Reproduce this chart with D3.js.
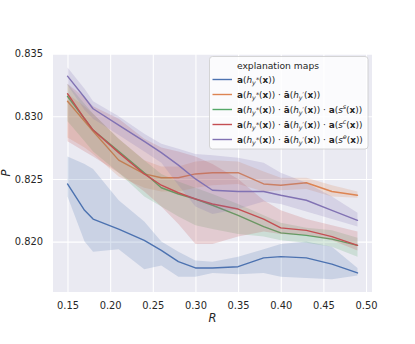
<!DOCTYPE html>
<html><head><meta charset="utf-8">
<script src="https://cdn.jsdelivr.net/npm/d3@7"></script>
<style>body{margin:0;background:#fff}svg{display:block}</style>
</head><body>
<svg id="chart" width="415" height="344"></svg>
<script>
const R = [0.15, 0.17, 0.18, 0.21, 0.24, 0.26, 0.28, 0.30, 0.32, 0.35, 0.38, 0.40, 0.43, 0.46, 0.49];

const blueMean = [0.8246,0.8225,0.8218,0.8210,0.8201,0.8193,0.8184,0.8179,0.8179,0.8180,0.8187,0.8188,0.8187,0.8182,0.8175];
const blueLo   = [0.8236,0.8200,0.8192,0.8194,0.8178,0.8181,0.8172,0.8172,0.8175,0.8174,0.8175,0.8172,0.8171,0.8170,0.8173];
const blueHi   = [0.8268,0.8262,0.8258,0.8233,0.8216,0.8200,0.8192,0.8185,0.8184,0.8188,0.8194,0.8198,0.8200,0.8196,0.8179];

const orangeMean = [0.8312,0.8296,0.8288,0.8265,0.8254,0.8251,0.8251,0.8254,0.8255,0.8255,0.8246,0.8245,0.8247,0.8240,0.8237];
const orangeLo   = [0.8283,0.8275,0.8270,0.8252,0.8243,0.8240,0.8240,0.8243,0.8245,0.8246,0.8240,0.8241,0.8242,0.8236,0.8235];
const orangeHi   = [0.8318,0.8308,0.8302,0.8282,0.8265,0.8260,0.8260,0.8264,0.8265,0.8264,0.8256,0.8251,0.8251,0.8245,0.8240];

const greenMean = [0.8316,0.8298,0.8289,0.8272,0.8255,0.8243,0.8238,0.8234,0.8229,0.8221,0.8212,0.8207,0.8205,0.8202,0.8197];
const greenLo   = [0.8296,0.8280,0.8272,0.8255,0.8236,0.8228,0.8220,0.8213,0.8210,0.8206,0.8204,0.8201,0.8199,0.8196,0.8188];
const greenHi   = [0.8326,0.8310,0.8302,0.8282,0.8265,0.8254,0.8248,0.8243,0.8238,0.8230,0.8221,0.8215,0.8211,0.8209,0.8203];

const redMean = [0.8318,0.8298,0.8289,0.8271,0.8254,0.8245,0.8239,0.8234,0.8230,0.8226,0.8218,0.8211,0.8209,0.8204,0.8197];
const redLo   = [0.8280,0.8272,0.8268,0.8255,0.8240,0.8228,0.8214,0.8198,0.8198,0.8204,0.8208,0.8206,0.8205,0.8201,0.8193];
const redHi   = [0.8326,0.8315,0.8308,0.8298,0.8282,0.8275,0.8272,0.8268,0.8262,0.8250,0.8233,0.8225,0.8218,0.8213,0.8208];

const purpleMean = [0.8332,0.8315,0.8306,0.8293,0.8280,0.8271,0.8261,0.8250,0.8241,0.8240,0.8240,0.8237,0.8233,0.8225,0.8217];
const purpleLo   = [0.8325,0.8305,0.8298,0.8285,0.8272,0.8263,0.8245,0.8228,0.8222,0.8226,0.8232,0.8230,0.8224,0.8218,0.8212];
const purpleHi   = [0.8339,0.8322,0.8312,0.8300,0.8286,0.8278,0.8274,0.8270,0.8269,0.8267,0.8263,0.8255,0.8247,0.8236,0.8223];

const xTicks = [0.15,0.20,0.25,0.30,0.35,0.40,0.45,0.50];
const yTicks = [0.820,0.825,0.830,0.835];
const legendTitle = "explanation maps";

const series = [
  {mean: blueMean, lo: blueLo, hi: blueHi, color: "#4c72b0"},
  {mean: orangeMean, lo: orangeLo, hi: orangeHi, color: "#dd8452"},
  {mean: greenMean, lo: greenLo, hi: greenHi, color: "#55a868"},
  {mean: redMean, lo: redLo, hi: redHi, color: "#c44e52"},
  {mean: purpleMean, lo: purpleLo, hi: purpleHi, color: "#8172b3"}
];

const svg = d3.select("#chart");
const L = 53, Rr = 372, T = 54, B = 292;
const x = d3.scaleLinear().domain([0.133, 0.507]).range([L, Rr]);
const y = d3.scaleLinear().domain([0.81598, 0.83497]).range([B, T]);
const font = "'DejaVu Sans', sans-serif";
const txt = "#262626";

svg.append("rect").attr("x", L).attr("y", T).attr("width", Rr - L).attr("height", B - T).attr("fill", "#eaeaf2");

const gx = svg.append("g").attr("transform", `translate(0,${B})`)
  .call(d3.axisBottom(x).tickValues(xTicks).tickSize(-(B - T)).tickPadding(10).tickFormat(d3.format(".2f")));
const gy = svg.append("g").attr("transform", `translate(${L},0)`)
  .call(d3.axisLeft(y).tickValues(yTicks).tickSize(-(Rr - L)).tickPadding(10).tickFormat(d3.format(".3f")));
[gx, gy].forEach(g => {
  g.select(".domain").remove();
  g.selectAll(".tick line").attr("stroke", "#ffffff").attr("stroke-width", 1.1);
  g.selectAll(".tick text").attr("fill", txt).attr("font-family", font).attr("font-size", 9.9);
});
gx.selectAll(".tick text").attr("dy", "0.71em");

const area = d3.area().x((d, i) => x(R[i])).y0(d => y(d[0])).y1(d => y(d[1]));
const line = d3.line().x((d, i) => x(R[i])).y(d => y(d));

const plot = svg.append("g");
series.forEach(s => {
  const band = s.lo.map((v, i) => [v, s.hi[i]]);
  plot.append("path").attr("d", area(band)).attr("fill", s.color).attr("fill-opacity", 0.2).attr("stroke", "none");
  plot.append("path").attr("d", line(s.mean)).attr("fill", "none").attr("stroke", s.color)
    .attr("stroke-width", 1.4).attr("stroke-linejoin", "round").attr("stroke-linecap", "round");
});

svg.append("text").attr("x", (L + Rr) / 2).attr("y", 322).attr("text-anchor", "middle")
  .attr("font-family", font).attr("font-style", "italic").attr("font-size", 11.5).attr("fill", txt).text("R");
svg.append("text").attr("transform", `translate(9.5,${(T + B) / 2}) rotate(-90)`).attr("text-anchor", "middle")
  .attr("font-family", font).attr("font-style", "italic").attr("font-size", 11.5).attr("fill", txt).text("P");

// legend
const lg = svg.append("g");
lg.append("rect").attr("x", 209.5).attr("y", 56.5).attr("width", 158.5).attr("height", 92.5).attr("rx", 3)
  .attr("fill", "#ffffff").attr("fill-opacity", 0.8).attr("stroke", "#cccccc").attr("stroke-width", 0.8);
lg.append("text").attr("x", 278).attr("y", 68.5).attr("text-anchor", "middle")
  .attr("font-family", font).attr("font-size", 9.2).attr("fill", txt).text(legendTitle);

function term(t, parts) { parts.forEach(p => {
  const ts = t.append("tspan").text(p.t);
  if (p.b) ts.attr("font-weight", "bold");
  if (p.i) ts.attr("font-style", "italic");
  if (p.sub) ts.attr("font-size", 6.4).attr("dy", p.dy);
  if (p.back) ts.attr("dy", p.back);
}); }
const ha = [{t:"a",b:1},{t:"("},{t:"h",i:1},{t:"y",i:1,sub:1,dy:2},{t:"*",sub:1,dy:-2.5},{t:"(",back:0.5},{t:"x",b:1},{t:"))"}];
const hb = [{t:" · "},{t:"ā",b:1},{t:"("},{t:"h",i:1},{t:"y",i:1,sub:1,dy:2},{t:"′",sub:1,dy:-2.5},{t:"(",back:0.5},{t:"x",b:1},{t:"))"}];
const sx = s => [{t:" · "},{t:"a",b:1},{t:"("},{t:"s",i:1},{t:s,i:1,sub:1,dy:-3.5},{t:"(",back:3.5},{t:"x",b:1},{t:"))"}];
const labels = [ha, ha.concat(hb), ha.concat(hb, sx("s")), ha.concat(hb, sx("c")), ha.concat(hb, sx("e"))];
labels.forEach((parts, i) => {
  const yy = 79.5 + i * 15;
  lg.append("line").attr("x1", 212.5).attr("x2", 232).attr("y1", yy).attr("y2", yy)
    .attr("stroke", series[i].color).attr("stroke-width", 1.4);
  const t = lg.append("text").attr("x", 237).attr("y", yy + 3).attr("font-family", font)
    .attr("font-size", 8.9).attr("fill", txt);
  term(t, parts);
});
</script>
</body></html>
